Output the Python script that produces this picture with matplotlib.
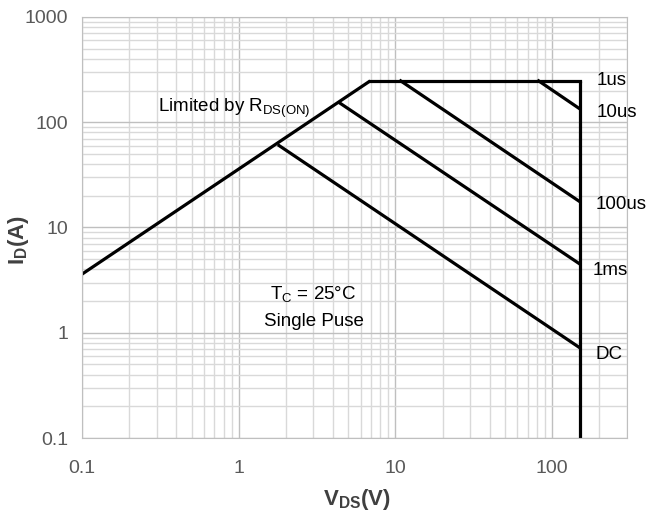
import matplotlib
matplotlib.use('Agg')
import matplotlib.pyplot as plt
from matplotlib.ticker import LogLocator, FixedLocator, NullFormatter

plt.rcParams['font.family'] = ['Liberation Sans', 'DejaVu Sans']
plt.rcParams['mathtext.fontset'] = 'custom'
plt.rcParams['mathtext.rm'] = 'Liberation Sans'
plt.rcParams['mathtext.bf'] = 'Liberation Sans:bold'

# safe operating area boundaries (V, A)
rdsLimitV = [0.1, 6.9]
rdsLimitI = [3.6, 247]
topV = [6.9, 150]
topI = [247, 247]
vmaxV = [150, 150]
vmaxI = [247, 0.1]

pulseNames = ['1us', '10us', '100us', '1ms', 'DC']
pulseStartV = [None, 82, 10.8, 4.45, 1.81]
pulseStartI = [None, 247, 247, 151, 60]
pulseEndV = [None, 150, 150, 150, 150]
pulseEndI = [None, 134, 17.6, 4.5, 0.72]
# where each label sits (V, A)
labelV = [192, 192, 189, 180, 189]
labelI = [247, 125, 16.7, 3.9, 0.62]

fig = plt.figure(figsize=(6.47, 5.17), dpi=100)
ax = fig.add_axes([0.1267, 0.1528, 0.8423, 0.8144])
ax.set_xscale('log')
ax.set_yscale('log')
ax.set_xlim(0.1, 300)
ax.set_ylim(0.1, 1000)

ax.xaxis.set_major_locator(FixedLocator([0.1, 1, 10, 100]))
ax.xaxis.set_minor_locator(LogLocator(base=10, subs=range(2, 10), numticks=20))
ax.yaxis.set_major_locator(FixedLocator([0.1, 1, 10, 100, 1000]))
ax.yaxis.set_minor_locator(LogLocator(base=10, subs=range(2, 10), numticks=20))
ax.xaxis.set_minor_formatter(NullFormatter())
ax.yaxis.set_minor_formatter(NullFormatter())
ax.set_xticklabels(['0.1', '1', '10', '100'])
ax.set_yticklabels(['0.1', '1', '10', '100', '1000'])

ax.grid(which='major', color='#bfbfbf', linewidth=1.0)
ax.grid(which='minor', color='#d9d9d9', linewidth=1.0)
ax.set_axisbelow(True)
ax.tick_params(which='both', length=0, labelsize=14, labelcolor='#595959')
ax.tick_params(axis='x', pad=16)
ax.tick_params(axis='y', pad=10)
for s in ax.spines.values():
    s.set_color('#bfbfbf')

lw = 2.3
ax.plot(rdsLimitV, rdsLimitI, color='black', lw=lw, solid_capstyle='butt')
ax.plot(topV, topI, color='black', lw=lw, solid_joinstyle='miter')
ax.plot(vmaxV, vmaxI, color='black', lw=lw, solid_capstyle='butt')
for i in range(len(pulseNames)):
    if pulseStartV[i] is not None:
        ax.plot([pulseStartV[i], pulseEndV[i]], [pulseStartI[i], pulseEndI[i]],
                color='black', lw=lw)
    ax.text(labelV[i], labelI[i], pulseNames[i], fontsize=13.5, va='center', ha='left',
            clip_on=False)

ax.text(0.94, 135, r'Limited by R$_{\mathrm{DS(ON)}}$', fontsize=13.5, ha='center', va='center')
ax.text(3.0, 2.3, r'T$_{\mathrm{C}}$ = 25°C', fontsize=13.5, ha='center', va='center')
ax.text(3.0, 1.27, 'Single Puse', fontsize=13.5, ha='center', va='center')

ax.set_xlabel(r'$\mathbf{V}_{\mathbf{DS}}\mathbf{(V)}$', fontsize=16, color='#404040')
ax.xaxis.set_label_coords(0.505, -0.145)
ax.xaxis.label.set_va('center')
ax.set_ylabel(r'$\mathbf{I}_{\mathbf{D}}\mathbf{(A)}$', fontsize=16, color='#404040')
ax.yaxis.set_label_coords(-0.117, 0.47)
ax.yaxis.label.set_va('center')

fig.savefig('out.png', dpi=100)
